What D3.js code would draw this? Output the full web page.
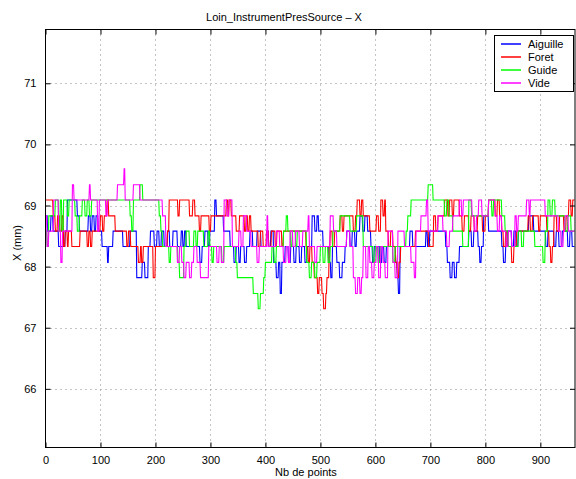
<!DOCTYPE html>
<html><head><meta charset="utf-8">
<script src="https://cdn.jsdelivr.net/npm/d3@7"></script>
<style>
html,body{margin:0;padding:0;background:#fff;}
svg{display:block;font-family:"Liberation Sans",Arial,Helvetica,sans-serif;}
</style></head>
<body>
<svg id="chart" width="576" height="479"></svg>
<script>
const N = 963;
const seriesNames = ["Aiguille", "Foret", "Guide", "Vide"];
const xTicks = [0, 100, 200, 300, 400, 500, 600, 700, 800, 900];
const yTicks = [66, 67, 68, 69, 70, 71];

// run-length data: start index of each run, and level (mm) of each run
const aiguilleStart = [0,4,10,14,24,36,40,58,62,78,82,85,89,92,96,103,113,115,123,141,154,166,176,181,187,191,198,203,207,211,216,222,226,232,240,247,250,253,256,281,285,290,296,299,308,311,324,336,343,347,352,355,362,366,372,377,385,392,403,406,410,415,420,424,427,430,436,442,446,452,456,462,466,472,476,485,490,494,497,505,516,519,522,530,535,540,545,548,554,558,563,566,572,577,581,586,592,595,598,608,612,616,620,637,640,642,645,663,668,692,695,699,728,731,736,740,744,748,753,770,775,779,787,790,793,797,806,830,833,837,840,848,852,856,860,879,888,910,914,925,929,934,940,950,954,958];
const aiguilleLevel = [68.83,68.58,68.83,68.58,68.33,68.58,69.09,68.83,68.58,68.83,68.58,68.83,68.58,68.83,68.58,68.33,68.07,68.33,68.58,68.33,68.58,67.82,68.07,67.82,68.33,68.58,68.33,68.58,68.33,68.58,68.33,68.58,68.33,68.58,68.33,68.58,68.33,68.58,68.33,68.07,68.33,68.58,68.33,68.58,69.09,68.83,68.58,68.33,68.07,68.33,68.07,68.33,68.07,68.33,68.58,68.33,68.58,68.33,68.58,68.33,68.58,68.07,67.82,68.07,67.56,68.07,68.33,68.07,68.33,68.07,68.33,68.07,68.33,68.07,68.33,68.83,68.58,68.83,68.58,68.33,68.07,67.82,68.33,68.07,67.82,68.07,68.33,68.58,68.33,68.58,68.33,68.58,68.83,68.58,68.83,68.58,68.33,68.07,68.33,68.07,68.33,68.07,68.33,68.07,67.82,67.56,68.33,68.58,68.33,68.58,68.33,68.58,68.33,68.07,67.82,68.07,67.82,68.07,68.33,68.58,68.33,68.58,68.33,68.07,68.33,68.83,68.58,68.33,68.07,68.33,68.58,68.33,68.58,68.33,68.58,68.83,68.58,68.33,68.58,68.33,68.58,68.33,68.58,68.33,68.58,68.33];

const foretStart = [0,14,18,22,26,30,33,36,40,42,48,63,76,79,82,85,100,104,107,112,115,127,148,151,155,169,173,175,178,196,200,222,225,241,244,262,268,272,280,283,298,301,329,332,334,338,347,353,362,365,368,371,374,387,391,396,402,406,411,418,421,430,433,474,478,481,485,489,495,498,503,506,510,512,516,518,522,526,536,540,543,560,564,567,572,575,578,590,602,606,610,614,617,619,624,628,632,637,640,643,646,673,697,706,710,714,726,732,735,740,743,753,758,762,770,774,780,786,795,800,806,818,822,826,830,833,837,840,848,852,857,878,882,886,897,900,912,916,919,922,925,930,935,943,947,952,956,959];
const foretLevel = [69.09,68.83,68.58,68.83,68.58,68.83,68.33,68.58,68.33,68.58,68.33,68.58,68.33,68.58,68.33,68.58,68.83,68.58,68.83,69.09,68.83,68.58,68.33,68.58,68.33,68.07,68.33,68.07,68.33,67.82,68.33,68.58,69.09,68.83,69.09,68.83,69.09,68.83,68.58,68.83,68.58,68.83,69.09,68.83,69.09,68.83,68.58,68.83,68.58,68.83,68.58,68.83,68.58,68.33,68.58,68.33,68.58,68.33,68.58,68.33,68.58,68.33,68.58,68.33,68.07,68.33,68.07,67.82,67.56,67.82,67.56,67.31,67.56,67.82,68.33,68.58,68.33,68.58,68.83,68.58,68.83,68.58,68.83,69.09,68.83,69.09,68.83,68.58,68.83,68.58,69.09,68.83,69.09,68.58,68.33,68.58,68.33,68.07,67.82,68.07,68.33,68.58,68.33,68.83,68.58,68.83,69.09,68.83,69.09,68.83,69.09,68.83,68.58,68.83,68.58,68.83,68.58,68.83,68.58,68.83,69.09,68.83,69.09,68.83,68.58,68.33,68.58,68.33,68.07,68.33,68.58,68.83,68.58,68.83,68.58,68.83,68.58,68.33,68.07,68.33,68.83,68.58,68.83,68.58,68.83,69.09,68.83,69.09];

const guideStart = [0,3,6,18,24,27,30,33,40,43,54,58,62,67,72,76,80,84,154,157,160,172,177,207,210,213,225,228,241,244,252,256,262,270,274,277,288,296,299,303,306,321,325,346,349,378,387,391,397,400,412,416,420,433,438,441,446,449,455,458,475,480,484,490,494,500,505,509,514,518,523,536,554,566,578,596,600,605,609,632,636,656,659,665,696,705,726,730,734,741,759,770,775,806,812,815,830,836,842,860,866,870,890,905,909,914,918,922,927,945,950,956];
const guideLevel = [68.58,68.33,68.83,69.09,68.58,69.09,68.58,69.09,68.83,69.09,68.83,68.58,68.83,69.09,68.83,69.09,68.83,69.09,68.83,68.58,69.09,69.34,69.09,68.83,68.58,68.33,68.07,68.33,68.07,67.82,68.33,68.58,68.33,68.58,68.33,68.58,68.33,68.58,68.33,68.07,68.33,68.07,68.33,68.07,67.82,67.56,67.31,67.56,67.82,68.07,68.33,68.07,68.33,68.58,68.83,68.58,68.33,68.58,68.33,68.58,68.07,67.82,68.07,67.82,68.07,68.33,68.07,68.33,68.07,68.33,68.58,68.83,68.58,68.83,68.33,68.07,68.33,68.07,68.33,68.07,68.33,68.58,68.83,69.09,69.34,69.09,68.83,69.09,68.83,68.58,68.33,69.09,68.83,69.09,68.83,69.09,68.83,68.58,68.33,68.58,68.33,68.58,68.33,68.07,68.58,69.09,68.83,69.09,68.83,68.58,68.83,68.58];

const videStart = [0,3,6,15,24,28,31,49,52,80,82,95,98,110,113,131,143,145,160,172,213,219,240,244,248,252,256,262,266,270,276,282,297,312,316,320,325,330,334,340,352,356,360,366,374,385,389,403,405,420,426,433,438,442,445,450,455,462,468,478,480,490,494,518,524,530,548,554,560,564,568,572,575,578,583,587,590,594,598,602,606,610,614,618,623,632,636,641,653,665,671,674,683,693,696,714,723,730,735,741,753,757,760,776,780,784,788,794,806,818,822,826,830,838,842,848,854,857,860,875,880,882,909,933,938,942,945,951];
const videLevel = [68.83,68.33,68.58,69.09,68.58,68.07,68.58,69.34,69.09,69.34,69.09,68.58,69.09,68.83,69.09,69.34,69.60,69.09,69.34,69.09,68.83,68.33,68.07,68.33,68.07,67.82,68.07,67.82,68.07,68.33,68.07,67.82,68.33,68.07,68.33,68.07,69.09,68.83,69.09,68.33,68.58,68.33,68.83,68.58,68.33,68.07,68.33,68.83,68.33,68.58,68.33,68.07,68.33,68.07,68.58,68.33,68.58,68.33,68.58,68.83,68.33,68.07,68.33,68.83,68.58,68.33,68.58,68.33,67.82,67.56,67.82,67.56,67.82,68.33,67.82,68.33,68.07,67.82,68.07,68.33,67.82,68.33,68.07,67.82,68.58,68.07,67.82,68.58,68.33,68.07,67.82,68.58,68.83,69.09,68.58,68.83,68.58,68.33,68.58,68.83,69.09,68.83,69.09,68.83,68.58,68.83,69.09,68.83,69.09,68.83,68.58,68.83,68.58,68.33,68.58,68.33,68.83,68.58,68.83,69.09,68.83,69.09,68.83,68.58,68.33,68.58,68.83,68.58];

const seriesColors = ["#0000ff", "#ff0000", "#00ff00", "#ff00ff"];

function expand(starts, levels, n) {
  const out = [];
  for (let r = 0; r < starts.length; r++) {
    const end = r + 1 < starts.length ? starts[r + 1] : n;
    for (let i = starts[r]; i < end; i++) out.push({i: i, v: levels[r]});
  }
  return out;
}
const series = [
  expand(aiguilleStart, aiguilleLevel, N),
  expand(foretStart, foretLevel, N),
  expand(guideStart, guideLevel, N),
  expand(videStart, videLevel, N)
];

const L = 45.5, R = 575, T = 29.5, B = 447.5;
const svg = d3.select("#chart");
const x = d3.scaleLinear().domain([0, 963]).range([L, R]);
const y = d3.scaleLinear().domain([65.04, 71.88]).range([B, T]);

// grid
const grid = svg.append("g");
xTicks.slice(1).forEach(t => {
  grid.append("line").attr("x1", Math.round(x(t)) + 0.5).attr("x2", Math.round(x(t)) + 0.5)
    .attr("y1", T).attr("y2", B).attr("stroke", "#8a8a8a").attr("stroke-width", 1).attr("stroke-dasharray", "1,4");
});
yTicks.forEach(t => {
  grid.append("line").attr("y1", Math.round(y(t)) + 0.5).attr("y2", Math.round(y(t)) + 0.5)
    .attr("x1", L).attr("x2", R).attr("stroke", "#8a8a8a").attr("stroke-width", 1).attr("stroke-dasharray", "1,4");
});

// lines
svg.append("defs").append("clipPath").attr("id", "clip").append("rect")
  .attr("x", L).attr("y", T).attr("width", R - L).attr("height", B - T);
const line = d3.line().x(d => x(d.i)).y(d => y(d.v));
const lg = svg.append("g").attr("clip-path", "url(#clip)");
series.forEach((s, k) => {
  lg.append("path").datum(s).attr("d", line).attr("fill", "none")
    .attr("stroke", seriesColors[k]).attr("stroke-width", 1.1);
});

// axes (inside ticks, box)
const xAxisB = d3.axisBottom(x).tickValues(xTicks).tickSize(-5).tickPadding(9).tickFormat(d3.format("d"));
const xAxisT = d3.axisTop(x).tickValues(xTicks).tickSize(-5).tickFormat("");
const yAxisL = d3.axisLeft(y).tickValues(yTicks).tickSize(-5).tickPadding(9).tickFormat(d3.format("d"));
const yAxisR = d3.axisRight(y).tickValues(yTicks).tickSize(-5).tickFormat("");
function style(g) {
  g.select(".domain").remove();
  g.selectAll(".tick line").attr("stroke", "#000");
  g.selectAll("text").attr("fill", "#000").style("font-size", "11px")
    .style("font-family", "'Liberation Sans',Arial,sans-serif");
}
svg.append("g").attr("transform", `translate(0,${B})`).call(xAxisB).call(style);
svg.append("g").attr("transform", `translate(0,${T})`).call(xAxisT).call(style);
svg.append("g").attr("transform", `translate(${L},0)`).call(yAxisL).call(style);
svg.append("g").attr("transform", `translate(${R},0)`).call(yAxisR).call(style);
svg.append("rect").attr("x", L).attr("y", T).attr("width", R - L).attr("height", B - T)
  .attr("fill", "none").attr("stroke", "#000").attr("stroke-width", 1);

// title & labels
svg.append("text").attr("x", 284).attr("y", 21).attr("text-anchor", "middle")
  .style("font-size", "11px").text("Loin_InstrumentPresSource – X");
svg.append("text").attr("x", 306).attr("y", 476).attr("text-anchor", "middle")
  .style("font-size", "11px").text("Nb de points");
svg.append("text").attr("transform", "translate(21,243) rotate(-90)").attr("text-anchor", "middle")
  .style("font-size", "11px").text("X (mm)");

// legend
const leg = svg.append("g");
leg.append("rect").attr("x", 494.5).attr("y", 35.5).attr("width", 79).attr("height", 56)
  .attr("fill", "#fff").attr("stroke", "#000").attr("stroke-width", 1);
seriesNames.forEach((n, k) => {
  const yy = 44 + k * 13;
  leg.append("path").attr("d", `M501,${yy}H521`).attr("fill", "none")
    .attr("stroke", seriesColors[k]).attr("stroke-width", 1.5);
  leg.append("text").attr("x", 528).attr("y", yy + 4).style("font-size", "11px").text(n);
});
</script>
</body></html>
